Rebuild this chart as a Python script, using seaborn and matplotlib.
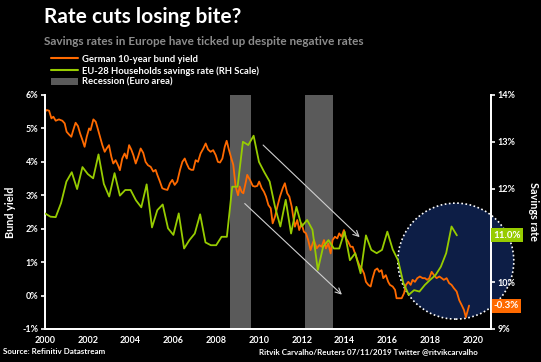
import numpy as np
import pandas as pd
import matplotlib
matplotlib.use("Agg")
import matplotlib.pyplot as plt
import seaborn as sns
from matplotlib.lines import Line2D
from matplotlib.patches import Patch, Ellipse

# German 10-year bund yield (%)
bund_years = [2000.0, 2000.08, 2000.19, 2000.3, 2000.39, 2000.5, 2000.65, 2000.81, 2000.92,
              2001.01, 2001.12, 2001.23, 2001.32, 2001.43, 2001.54, 2001.64, 2001.75, 2001.85, 2001.95,
              2002.06, 2002.13, 2002.26, 2002.37, 2002.44, 2002.57, 2002.68, 2002.79, 2002.88, 2002.99,
              2003.1, 2003.19, 2003.3, 2003.41, 2003.5, 2003.61, 2003.72, 2003.82, 2003.93,
              2004.03, 2004.13, 2004.24, 2004.35, 2004.47, 2004.59, 2004.7, 2004.81, 2004.94,
              2005.06, 2005.17, 2005.25, 2005.37, 2005.48, 2005.59, 2005.72, 2005.84, 2005.95,
              2006.06, 2006.18, 2006.31, 2006.42, 2006.53, 2006.62, 2006.73, 2006.84, 2006.93,
              2007.04, 2007.15, 2007.27, 2007.4, 2007.51, 2007.62, 2007.74, 2007.86, 2007.98,
              2008.08, 2008.18, 2008.29, 2008.4, 2008.49, 2008.6, 2008.71, 2008.8, 2008.91,
              2009.02, 2009.1, 2009.19, 2009.27, 2009.39, 2009.45, 2009.58, 2009.71, 2009.81, 2009.92,
              2010.01, 2010.13, 2010.23, 2010.33, 2010.44, 2010.55, 2010.64, 2010.75, 2010.86, 2010.98,
              2011.11, 2011.21, 2011.32, 2011.42, 2011.53, 2011.6, 2011.68, 2011.79, 2011.88, 2011.99,
              2012.1, 2012.2, 2012.3, 2012.41, 2012.51, 2012.57, 2012.7, 2012.82, 2012.93,
              2013.04, 2013.13, 2013.24, 2013.35, 2013.44, 2013.55, 2013.66, 2013.75, 2013.86, 2013.97,
              2014.07, 2014.17, 2014.28, 2014.38, 2014.49, 2014.6, 2014.69, 2014.8, 2014.91,
              2015.0, 2015.11, 2015.22, 2015.31, 2015.42, 2015.53, 2015.62, 2015.73, 2015.81, 2015.93,
              2016.04, 2016.12, 2016.25, 2016.36, 2016.43, 2016.56, 2016.67, 2016.78, 2016.87, 2016.98,
              2017.09, 2017.18, 2017.29, 2017.4, 2017.52, 2017.65, 2017.76, 2017.86, 2017.96,
              2018.07, 2018.18, 2018.3, 2018.43, 2018.54, 2018.64, 2018.77, 2018.89,
              2019.0, 2019.11, 2019.24, 2019.36, 2019.47, 2019.58, 2019.67, 2019.82]
bund_yield = [5.50, 5.55, 5.53, 5.30, 5.35, 5.23, 5.27, 5.23, 5.15,
              4.90, 4.82, 4.75, 4.95, 5.17, 5.07, 4.85, 4.65, 4.45, 4.75,
              5.00, 4.95, 5.27, 5.20, 5.05, 4.75, 4.50, 4.30, 4.40, 4.50,
              4.15, 3.95, 4.05, 3.90, 3.75, 4.10, 4.25, 4.10, 4.50,
              4.37, 4.20, 3.95, 4.15, 4.40, 4.27, 4.00, 3.90, 3.85,
              3.71, 3.76, 3.61, 3.41, 3.21, 3.18, 3.16, 3.36, 3.46,
              3.31, 3.41, 3.76, 4.00, 4.10, 3.95, 3.80, 3.76, 3.76,
              4.05, 4.00, 4.25, 4.40, 4.55, 4.37, 4.30, 4.35, 4.20,
              4.00, 3.98, 4.10, 4.45, 4.63, 4.35, 4.10, 3.91, 3.26,
              3.00, 3.26, 3.10, 3.06, 3.41, 3.61, 3.46, 3.28, 3.26, 3.28,
              3.41, 3.21, 3.11, 2.96, 2.71, 2.61, 2.16, 2.36, 2.66, 2.96,
              3.21, 3.36, 3.06, 2.96, 2.66, 2.36, 2.06, 2.26, 1.96, 2.16,
              1.91, 1.86, 1.66, 1.36, 1.56, 1.66, 1.41, 1.51, 1.46,
              1.66, 1.41, 1.56, 1.26, 1.66, 1.76, 1.71, 1.86, 1.76, 1.96,
              1.71, 1.61, 1.46, 1.46, 1.26, 1.06, 0.91, 0.81, 0.66,
              0.41, 0.32, 0.27, 0.52, 0.76, 0.81, 0.71, 0.76, 0.52, 0.61,
              0.41, 0.32, 0.27, 0.17, -0.08, -0.08, -0.08, 0.07, 0.32, 0.41,
              0.32, 0.47, 0.41, 0.52, 0.57, 0.52, 0.52, 0.47, 0.52,
              0.71, 0.61, 0.52, 0.57, 0.52, 0.47, 0.52, 0.37,
              0.32, 0.22, 0.12, -0.14, -0.28, -0.43, -0.65, -0.30]

# EU-28 household savings rate (%), quarterly from 2000 Q1
savings_quarters = pd.period_range("2000Q1", "2019Q2", freq="Q")
savings_rate = [11.47, 11.40, 11.39, 11.69, 12.15, 12.35, 11.99, 12.46,
                12.31, 12.22, 12.73, 12.10, 11.83, 12.33, 11.85, 11.97,
                11.97, 11.75, 11.60, 12.09, 11.17, 11.54, 11.66, 11.15,
                11.01, 11.47, 10.72, 10.90, 11.04, 11.45, 10.85, 10.79,
                10.79, 10.97, 10.97, 12.04, 12.04, 13.00, 12.93, 13.13,
                12.57, 12.35, 12.15, 11.61, 11.19, 11.76, 11.04, 11.61,
                11.19, 11.33, 11.12, 10.26, 10.76, 10.90, 10.72, 10.72,
                11.08, 10.47, 10.62, 10.19, 11.00, 10.69, 10.62, 10.69,
                11.08, 10.70, 10.47, 9.98, 9.73, 9.83, 9.80, 9.94,
                10.05, 10.15, 10.33, 10.62, 11.19, 11.00]

recessions = [(2008.65, 2009.65), (2012.15, 2013.45)]

ORANGE = "#ff6a00"
GREEN = "#97cc00"
GREY = "#5a5a5a"

bund = pd.DataFrame({"year": bund_years, "yield": bund_yield})
savings = pd.DataFrame({"year": savings_quarters.year + (savings_quarters.quarter - 1) / 4,
                        "rate": savings_rate})

sns.set_style("dark", {"axes.facecolor": "black", "figure.facecolor": "black"})
plt.rcParams["font.family"] = ["Lato", "DejaVu Sans"]
plt.rcParams["font.weight"] = "bold"

fig = plt.figure(figsize=(5.41, 3.62), dpi=100)
ax = fig.add_axes([0.0832, 0.0912, 0.8238, 0.6464])
ax2 = ax.twinx()

for start, end in recessions:
    ax.axvspan(start, end, color=GREY, lw=0, zorder=0)

# highlight circle (an ellipse in data units so it looks round on screen)
ax.add_patch(Ellipse((2019.2, 1.03), 5.42, 3.47, facecolor="#0d1e46", edgecolor="white",
                     lw=1.2, ls=(0, (1, 1.5)), zorder=1, clip_on=False))

sns.lineplot(data=bund, x="year", y="yield", ax=ax, color=ORANGE, lw=1.3, zorder=3)
sns.lineplot(data=savings, x="year", y="rate", ax=ax2, color=GREEN, lw=1.3, zorder=3)
ax.set_zorder(ax2.get_zorder() - 1)
ax2.patch.set_visible(False)

ax.set_xlim(2000, 2020.83)
ax.set_ylim(-1, 6)
ax2.set_ylim(9, 14)
ax.set_xticks(range(2000, 2021, 2))
ax.set_yticks(range(-1, 7))
ax.set_yticklabels([f"{v}%" for v in range(-1, 7)])
ax2.set_yticks(range(9, 15))
# the 11% label sits under the end-value tag
ax2.set_yticklabels(["" if v == 11 else f"{v}%" for v in range(9, 15)])
ax.grid(False)
ax2.grid(False)
ax.set_xlabel("")
ax.set_ylabel("Bund yield", color="white", fontsize=7.8, fontweight="bold", va="center")
ax.yaxis.set_label_coords(-0.078, 0.5)
ax2.set_ylabel("Savings rate", color="white", fontsize=7.8, fontweight="bold", rotation=270,
               va="center")
ax2.yaxis.set_label_coords(1.095, 0.5)

for a in (ax, ax2):
    a.spines["top"].set_visible(False)
    for side in ("left", "right", "bottom"):
        a.spines[side].set_color("white")
        a.spines[side].set_linewidth(1.3)
    a.tick_params(colors="white", labelsize=6.5, length=3, width=1.2, pad=2)

# trend arrows
arrow = dict(arrowstyle="->", color="#d0d0d0", lw=0.8)
ax.annotate("", xy=(2014.8, 1.69), xytext=(2010.1, 4.56), arrowprops=arrow, zorder=4)
ax.annotate("", xy=(2013.97, -0.03), xytext=(2009.24, 2.81), arrowprops=arrow, zorder=4)

# end-value tags
ax2.text(2020.95, savings_rate[-1], f"{savings_rate[-1]:.1f}%", color="white", fontsize=7,
         va="center", ha="left", bbox=dict(boxstyle="square,pad=0.25", fc=GREEN, ec="none"),
         clip_on=False, zorder=5)
ax.text(2020.95, bund_yield[-1], f"{bund_yield[-1]:.1f}%", color="white", fontsize=7,
        va="center", ha="left", bbox=dict(boxstyle="square,pad=0.25", fc=ORANGE, ec="none"),
        clip_on=False, zorder=5)

fig.text(0.081, 0.952, "Rate cuts losing bite?", color="white", fontsize=15,
         fontweight="bold", va="center")
fig.text(0.081, 0.884, "Savings rates in Europe have ticked up despite negative rates",
         color="#8c8c8c", fontsize=8.5, fontweight="bold", va="center")

handles = [Line2D([], [], color=ORANGE, lw=1.5),
           Line2D([], [], color=GREEN, lw=1.5),
           Patch(facecolor=GREY, edgecolor="none")]
labels = ["German 10-year bund yield", "EU-28 Households savings rate (RH Scale)",
          "Recession (Euro area)"]
fig.legend(handles, labels, loc="upper left", bbox_to_anchor=(0.086, 0.862), frameon=False,
           fontsize=6.8, labelcolor="white", handlelength=2.8, handleheight=0.8,
           labelspacing=0.25, borderpad=0, handletextpad=0.5)

fig.text(0.006, 0.028, "Source: Refinitiv Datastream", color="white", fontsize=5.8, va="center")
fig.text(0.884, 0.028, "Ritvik Carvalho/Reuters 07/11/2019 Twitter @ritvikcarvalho",
         color="white", fontsize=5.8, va="center", ha="right")

fig.savefig("out.png", dpi=100, facecolor="black")
